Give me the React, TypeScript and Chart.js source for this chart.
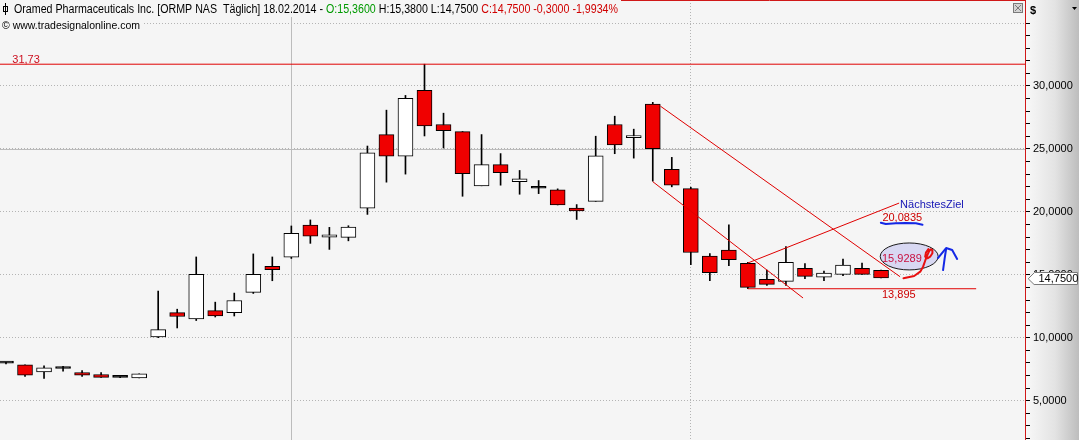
import React, { useEffect, useRef } from "react";
import { Chart, registerables } from "chart.js";

Chart.register(...registerables);

// ---- candle data (daily, last = 18.02.2014) ----
const opens = [7.98, 7.85, 7.29, 7.56, 7.24, 7.08, 6.86, 6.81, 10.06, 12.0, 11.5, 12.16, 12.0, 13.6, 15.68, 16.4, 18.96, 18.0, 17.98, 20.29, 26.14, 24.43, 29.66, 26.94, 26.38, 22.07, 23.75, 22.39, 21.88, 21.75, 20.31, 20.84, 26.94, 25.9, 28.56, 23.37, 21.85, 16.48, 16.96, 15.92, 14.64, 14.48, 15.52, 14.82, 15.04, 15.52, 15.36];
const highs = [8.05, 7.85, 7.77, 7.74, 7.4, 7.24, 6.9, 7.13, 13.71, 12.27, 16.42, 12.83, 13.55, 16.66, 16.42, 18.88, 19.36, 18.77, 18.9, 25.23, 28.08, 29.25, 31.73, 27.84, 26.38, 26.14, 24.63, 23.29, 22.49, 21.83, 20.58, 26.01, 27.6, 26.57, 28.7, 24.33, 21.96, 16.69, 18.98, 16.0, 15.38, 17.25, 15.89, 15.3, 16.26, 15.94, 15.38];
const lows = [7.92, 6.94, 6.78, 7.34, 6.94, 6.86, 6.84, 6.81, 10.01, 10.78, 11.37, 11.65, 11.73, 13.52, 14.53, 16.3, 17.5, 17.02, 17.7, 19.8, 22.36, 23.0, 26.03, 25.07, 21.24, 22.07, 22.12, 21.4, 21.45, 20.55, 19.4, 20.84, 24.62, 24.27, 22.44, 21.99, 15.81, 14.53, 15.73, 13.895, 14.16, 14.16, 14.69, 14.53, 14.93, 15.04, 14.75];
const closes = [7.98, 7.02, 7.61, 7.56, 7.02, 6.86, 6.86, 7.13, 10.65, 11.69, 15.04, 11.73, 12.96, 15.04, 15.41, 18.3, 18.08, 18.18, 18.8, 24.7, 24.43, 29.02, 26.83, 26.46, 23.03, 23.75, 23.11, 22.63, 21.88, 20.55, 20.07, 24.46, 25.32, 26.06, 25.02, 22.12, 16.77, 15.17, 16.21, 14.0, 14.24, 16.0, 14.88, 15.14, 15.78, 15.04, 14.75];

// ---- axes ----
const xMin = -0.315;
const xMax = 53.62;
const yMin = 1.88;
const yMax = 36.83;
const yTickStep = 1;
const yLabelEvery = 5;
const yLabelRange = [5, 30];
const yTickMarkMax = 35;
const monthLines = [36];
const crosshairIndex = 15;
const crosshairPrice = 25;

// ---- drawn analysis objects (index, price) ----
const resistanceLevel = 31.73;
const supportLevel = 13.895;
const upperChannel = [{ x: 34.4, y: 28.4 }, { x: 47.0, y: 14.85 }];
const lowerChannel = [{ x: 34.0, y: 22.4 }, { x: 41.9, y: 13.16 }];
const upTrend = [{ x: 39.0, y: 15.94 }, { x: 46.95, y: 20.7 }];
const supportLine = [{ x: 39.0, y: supportLevel }, { x: 51.0, y: supportLevel }];
const targetValue = 20.0835;
const circledValue = 15.9289;
const ellipseCenter = [47.48, 16.46];
const ellipseRadius = [1.523, 1.07];
const redScribble = [[47.18, 14.73], [47.74, 14.91], [48.06, 15.25], [48.21, 15.65], [48.32, 16.12], [48.44, 16.58], [48.53, 16.89], [48.62, 17.03], [48.7, 16.97], [48.7, 16.71], [48.58, 16.44], [48.44, 16.31], [48.32, 16.44], [48.36, 16.76], [48.49, 17.05]];
const blueUnderline = [[45.99, 19.14], [46.25, 19.04], [46.78, 19.09], [47.3, 19.12], [47.83, 19.09], [48.18, 18.98]];
const blueArrowStem = [[49.26, 15.38], [49.34, 16.26], [49.42, 17.05]];
const blueArrowHead = [[49.0, 16.34], [49.42, 17.13], [49.74, 16.97], [50.0, 16.26]];

const headerParts: [string, string][] = [
  ["Oramed Pharmaceuticals Inc. [ORMP NAS  Täglich] 18.02.2014 - ", "#000000"],
  ["O:15,3600", "#009a00"],
  [" H:15,3800 L:14,7500 ", "#000000"],
  ["C:14,7500 -0,3000 -1,9934%", "#d00000"],
];
const copyright = "© www.tradesignalonline.com";

const FONT = '"Liberation Sans", Arial, sans-serif';
const fmt = (v: number, d: number) => v.toFixed(d).replace(".", ",");

const overlayPlugin = {
  id: "overlay",
  beforeDraw(chart: any) {
    const { ctx, chartArea: a, width, height } = chart;
    ctx.save();
    ctx.fillStyle = "#f5f5f5";
    ctx.fillRect(0, 0, width, height);
    const g = ctx.createLinearGradient(a.right, 0, width, 0);
    g.addColorStop(0, "#f8f8f8");
    g.addColorStop(0.55, "#e3e3e3");
    g.addColorStop(1, "#bdbdbd");
    ctx.fillStyle = g;
    ctx.fillRect(a.right, 0, width - a.right, height);
    ctx.restore();
  },
  beforeDatasetsDraw(chart: any) {
    const { ctx, chartArea: a, scales } = chart;
    const cx = Math.round(scales.x.getPixelForValue(crosshairIndex)) + 0.5;
    const cy = Math.round(scales.y.getPixelForValue(crosshairPrice)) + 0.5;
    ctx.save();
    ctx.strokeStyle = "#bcbcbc";
    ctx.lineWidth = 1;
    ctx.beginPath();
    ctx.moveTo(cx, a.top);
    ctx.lineTo(cx, a.bottom);
    ctx.moveTo(a.left, cy);
    ctx.lineTo(a.right, cy);
    ctx.stroke();
    ctx.restore();
  },
  afterDraw(chart: any) {
    const { ctx, chartArea: a, scales, width } = chart;
    const xs = scales.x;
    const ys = scales.y;
    const X = (v: number) => xs.getPixelForValue(v);
    const Y = (v: number) => ys.getPixelForValue(v);
    ctx.save();
    ctx.font = "11px " + FONT;

    // frame
    ctx.strokeStyle = "#d01818";
    ctx.lineWidth = 1;
    ctx.beginPath();
    ctx.moveTo(a.left, 0.5);
    ctx.lineTo(a.right, 0.5);
    ctx.moveTo(a.right - 0.5, 0);
    ctx.lineTo(a.right - 0.5, a.bottom);
    ctx.stroke();

    // header boxes
    ctx.font = "12px " + FONT;
    ctx.fillStyle = "#f5f5f5";
    ctx.fillRect(0, 0, 621, 17);
    let total = 0;
    headerParts.forEach(([t]) => (total += ctx.measureText(t).width));
    const sx = 604 / total;
    ctx.save();
    ctx.translate(14, 13);
    ctx.scale(sx, 1);
    let cxp = 0;
    ctx.textBaseline = "alphabetic";
    headerParts.forEach(([t, c]) => {
      ctx.fillStyle = c;
      ctx.fillText(t, cxp, 0);
      cxp += ctx.measureText(t).width;
    });
    ctx.restore();
    // icon
    ctx.strokeStyle = "#000";
    ctx.beginPath();
    ctx.moveTo(5.5, 3);
    ctx.lineTo(5.5, 15);
    ctx.stroke();
    ctx.strokeRect(3.5, 6.5, 4, 5);

    ctx.font = "11px " + FONT;
    const cw = ctx.measureText(copyright).width;
    ctx.fillStyle = "#f5f5f5";
    ctx.fillRect(0, 17, 143, 15);
    ctx.save();
    ctx.translate(2, 29);
    ctx.scale(138 / cw, 1);
    ctx.fillStyle = "#000";
    ctx.fillText(copyright, 0, 0);
    ctx.restore();

    // close box
    ctx.fillStyle = "#d4d4d4";
    ctx.fillRect(a.right - 13, 3, 10, 10);
    ctx.strokeStyle = "#7a7a7a";
    ctx.strokeRect(a.right - 12.5, 3.5, 9, 9);
    ctx.beginPath();
    ctx.moveTo(a.right - 11, 5);
    ctx.lineTo(a.right - 5, 11);
    ctx.moveTo(a.right - 5, 5);
    ctx.lineTo(a.right - 11, 11);
    ctx.stroke();

    // axis header
    ctx.fillStyle = "#000";
    ctx.font = "bold 11px " + FONT;
    ctx.fillText("$", a.right + 4, 14);
    ctx.beginPath();
    ctx.moveTo(width - 7, 7);
    ctx.lineTo(width - 2, 7);
    ctx.lineTo(width - 4.5, 10);
    ctx.closePath();
    ctx.fill();

    // analysis labels
    ctx.font = "11px " + FONT;
    ctx.textBaseline = "alphabetic";
    ctx.fillStyle = "#cc1020";
    ctx.fillText(fmt(resistanceLevel, 2), X(0.33), Y(resistanceLevel) - 1.5);
    ctx.textBaseline = "top";
    ctx.fillStyle = "#cc0000";
    ctx.fillText(fmt(supportLevel, 3), X(46.05), Y(supportLevel) + 1);
    ctx.fillText(fmt(targetValue, 4), X(46.07), Y(targetValue) + 1.5);
    ctx.textBaseline = "middle";
    ctx.fillStyle = "#1414b4";
    ctx.fillText("NächstesZiel", X(upTrend[1].x) + 1, Y(upTrend[1].y) + 2);

    // ellipse
    const ex = X(ellipseCenter[0]);
    const ey = Y(ellipseCenter[1]);
    const rx = X(ellipseCenter[0] + ellipseRadius[0]) - ex;
    const ry = ey - Y(ellipseCenter[1] + ellipseRadius[1]);
    ctx.beginPath();
    ctx.ellipse(ex, ey, rx, ry, 0, 0, Math.PI * 2);
    ctx.fillStyle = "#d8d8f2";
    ctx.fill();
    ctx.strokeStyle = "#1a1a1a";
    ctx.lineWidth = 1;
    ctx.stroke();
    ctx.textBaseline = "alphabetic";
    ctx.fillStyle = "#c81040";
    ctx.fillText(fmt(circledValue, 4), X(46.05), Y(circledValue) - 1.5);

    // freehand strokes
    const path = (pts: number[][], color: string) => {
      ctx.beginPath();
      pts.forEach(([i, p], k) => (k ? ctx.lineTo(X(i), Y(p)) : ctx.moveTo(X(i), Y(p))));
      ctx.strokeStyle = color;
      ctx.lineWidth = 2;
      ctx.lineJoin = "round";
      ctx.lineCap = "round";
      ctx.stroke();
    };
    path(redScribble, "#e81010");
    path(blueUnderline, "#1428e6");
    path(blueArrowStem, "#1428e6");
    path(blueArrowHead, "#1428e6");

    // price marker
    const last = closes[closes.length - 1];
    const py = Math.round(Y(last)) + 0.5;
    const l = a.right + 2.5;
    ctx.beginPath();
    ctx.moveTo(l, py);
    ctx.lineTo(l + 6, py - 6);
    ctx.lineTo(width - 1.5, py - 6);
    ctx.lineTo(width - 1.5, py + 6);
    ctx.lineTo(l + 6, py + 6);
    ctx.closePath();
    ctx.fillStyle = "#ffffff";
    ctx.fill();
    ctx.strokeStyle = "#7a7a7a";
    ctx.lineWidth = 1;
    ctx.stroke();
    ctx.fillStyle = "#000";
    ctx.textBaseline = "middle";
    ctx.fillText(fmt(last, 4), l + 10, py + 0.5);
    ctx.restore();
  },
};

export default function App() {
  const ref = useRef<HTMLCanvasElement>(null);
  useEffect(() => {
    const canvas = ref.current;
    if (!canvas) return;
    const bodyColors = opens.map((o, i) =>
      closes[i] > o ? "#ffffff" : closes[i] < o ? "#f00000" : "#000000"
    );
    const lineDs = (data: { x: number; y: number }[]) => ({
      type: "line" as const,
      data,
      borderColor: "#e00000",
      borderWidth: 1,
      pointRadius: 0,
      tension: 0,
      order: 0,
    });
    const chart = new Chart(canvas, {
      type: "bar",
      data: {
        datasets: [
          {
            type: "bar",
            data: lows.map((l, i) => ({ x: i, y: [l, highs[i]] })) as any,
            backgroundColor: "#000000",
            borderWidth: 0,
            barThickness: 1,
            grouped: false,
            order: 2,
          } as any,
          {
            type: "bar",
            data: opens.map((o, i) => ({ x: i, y: [o, closes[i]] })) as any,
            backgroundColor: bodyColors,
            borderColor: "#000000",
            borderWidth: 1,
            borderSkipped: false,
            barThickness: 15,
            minBarLength: 2,
            grouped: false,
            order: 1,
          } as any,
          lineDs([{ x: xMin - 1, y: resistanceLevel }, { x: xMax + 1, y: resistanceLevel }]),
          lineDs(upperChannel),
          lineDs(lowerChannel),
          lineDs(upTrend),
          lineDs(supportLine),
        ],
      },
      options: {
        animation: false,
        responsive: false,
        devicePixelRatio: 1,
        layout: { padding: 0 },
        plugins: { legend: { display: false }, tooltip: { enabled: false } },
        scales: {
          x: {
            type: "linear",
            min: xMin,
            max: xMax,
            offset: false,
            afterBuildTicks: (s: any) => {
              s.ticks = monthLines.map((v) => ({ value: v }));
            },
            ticks: { display: false },
            grid: { color: "#b4b4b4", drawTicks: false, offset: false },
            border: { display: false, dash: [1, 2] },
            afterFit: (s: any) => {
              s.height = 0;
              s.paddingLeft = 0;
              s.paddingRight = 0;
            },
          },
          y: {
            type: "linear",
            position: "right",
            min: yMin,
            max: yMax,
            ticks: {
              stepSize: yTickStep,
              autoSkip: false,
              includeBounds: false,
              padding: 3,
              color: "#000000",
              font: { family: FONT, size: 11 },
              callback: (v: any) => {
                const n = Number(v);
                return Math.abs(n % yLabelEvery) < 1e-6 && n >= yLabelRange[0] && n <= yLabelRange[1]
                  ? fmt(n, 4)
                  : "";
              },
            },
            grid: {
              color: (c: any) =>
                c.tick && Math.abs(c.tick.value % yLabelEvery) < 1e-6 ? "#b4b4b4" : "rgba(0,0,0,0)",
              tickColor: (c: any) =>
                c.tick && c.tick.value > yTickMarkMax ? "rgba(0,0,0,0)" : "#000000",
              tickLength: 4,
              tickWidth: 1,
              drawTicks: true,
            },
            border: { display: false, dash: [1, 2] },
            afterFit: (s: any) => {
              s.width = 53;
              s.paddingTop = 0;
              s.paddingBottom = 0;
            },
          },
        },
      } as any,
      plugins: [overlayPlugin],
    });
    return () => chart.destroy();
  }, []);
  return (
    <div style={{ position: "absolute", left: 0, top: 0, width: 1079, height: 440, background: "#f5f5f5" }}>
      <canvas ref={ref} width={1079} height={440} style={{ display: "block", width: 1079, height: 440 }} />
    </div>
  );
}
